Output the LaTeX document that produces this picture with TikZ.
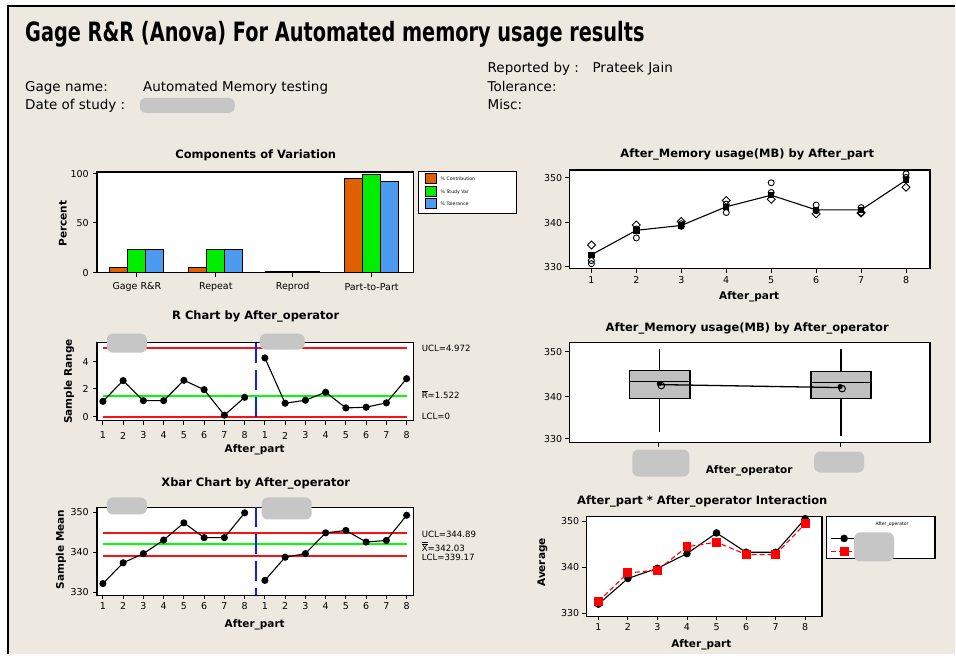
\documentclass[tikz,border=0pt]{standalone}
\usepackage{fontspec}
\setmainfont{DejaVu Sans}
\usetikzlibrary{shapes.geometric}

\definecolor{paper}{HTML}{EDE9E0}
\definecolor{contrib}{HTML}{E06000}
\definecolor{studyvar}{HTML}{00EE00}
\definecolor{toler}{HTML}{4C9BF0}
\definecolor{smudge}{HTML}{C6C6C6}
\definecolor{boxfill}{HTML}{C0C0C0}
\definecolor{ctlred}{HTML}{FF1010}
\definecolor{ctlgreen}{HTML}{00FF00}
\definecolor{splitblue}{HTML}{1020F0}

\tikzset{
  plotframe/.style={draw=black, line width=1.5pt, fill=white},
  frameline/.style={draw=black, line width=1.5pt},
  charttitle/.style={font=\fontsize{11.5}{14}\selectfont\bfseries, inner sep=0pt},
  ticklabel/.style={font=\fontsize{9.5}{11}\selectfont, inner sep=0pt},
  axistitle/.style={font=\fontsize{10.5}{12}\selectfont\bfseries, inner sep=0pt},
  limitlabel/.style={font=\fontsize{8.6}{10}\selectfont, inner sep=0pt, anchor=west},
  headtext/.style={font=\fontsize{13.5}{16}\selectfont, inner sep=0pt, anchor=base west},
  tinytext/.style={font=\fontsize{4.6}{5.5}\selectfont, inner sep=0pt, anchor=west},
  bar/.style={draw=black, line width=1pt},
  tickmark/.style={line width=1pt},
  dataline/.style={line width=1.1pt, black},
  ctl/.style={line width=1.9pt},
  smudgeblob/.style={fill=smudge, rounded corners=6pt},
  splitline/.style={splitblue, line width=1.6pt, dash pattern=on 20pt off 7pt},
}

\begin{document}
\begin{tikzpicture}[x=1pt,y=-1pt]
% ---------- page ----------
\fill[white] (0,0) rectangle (956,655);
\fill[paper] (8,6) rectangle (956,655);
\draw[line width=2pt] (8.5,655) -- (8.5,6.5) -- (956,6.5);
\useasboundingbox (0,0) rectangle (956,655);

% ---------- header ----------
\node[anchor=base west, inner sep=0pt, font=\fontsize{25}{30}\selectfont\bfseries] (title) at (25,42)
  {\resizebox*{620pt}{26pt}{Gage R\&R (Anova) For Automated memory usage results}};
\node[headtext] (repby) at (488,73) {Reported by :};
\node[headtext] (repname) at (593,73) {Prateek Jain};
\node[headtext] (gname) at (25,92) {Gage name:};
\node[headtext] (gval) at (143,92) {Automated Memory testing};
\node[headtext] (tol) at (488,92) {Tolerance:};
\node[headtext] (date) at (25,110) {Date of study :};
\node[headtext] (misc) at (488,110) {Misc:};
\fill[smudgeblob] (140,98) rectangle (235,113);

% ---------- components of variation ----------
\node[charttitle] (cvtitle) at (256,155) {Components of Variation};
\draw[plotframe] (97,172) rectangle (414,273);
\begin{scope}[yshift=-273pt, y=0.99pt]
  \foreach \cx/\va/\vb/\vc in {137/5.5/23/23, 216/5.5/23/23, 293/0.8/0.8/0.8, 372/95/99.6/92} {
    \draw[bar, fill=contrib]  (\cx-27,0) rectangle (\cx-9,\va);
    \draw[bar, fill=studyvar] (\cx-9,0)  rectangle (\cx+9,\vb);
    \draw[bar, fill=toler]    (\cx+9,0)  rectangle (\cx+27,\vc);
  }
\end{scope}
\draw[frameline] (97,172) rectangle (414,273);
\foreach \cx/\lab [count=\k] in {137/Gage R\&R, 216/Repeat, 293/Reprod, 372/Part-to-Part} {
  \draw[tickmark] (\cx,273) -- (\cx,277);
  \node[ticklabel] (cvcat\k) at (\cx,287) {\lab};
}
\foreach \yy/\lab [count=\k] in {174/100, 223/50, 273/0} {
  \draw[tickmark] (93,\yy) -- (97,\yy);
  \node[ticklabel, anchor=east] (cvy\k) at (89,\yy) {\lab};
}
\node[axistitle, rotate=90] (cvylab) at (63,224) {Percent};
% legend
\draw[fill=white, line width=1.2pt] (419,172) rectangle (517,214);
\draw[bar, fill=contrib]  (426,174) rectangle (437,184);
\draw[bar, fill=studyvar] (426,187) rectangle (437,197);
\draw[bar, fill=toler]    (426,199) rectangle (437,209);
\node[tinytext] (lgc) at (441,179) {\% Contribution};
\node[tinytext] (lgs) at (441,192) {\% Study Var};
\node[tinytext] (lgt) at (441,204) {\% Tolerance};

% ---------- R chart ----------
\node[charttitle] (rtitle) at (256,317) {R Chart by After\_operator};
\draw[plotframe] (97,343) rectangle (414,421);
\begin{scope}[xshift=82.73pt, yshift=-417pt, x=20.27pt, y=13.75pt]
  \draw[ctl, ctlred]   (1,4.972) -- (16,4.972);
  \draw[ctl, ctlgreen] (1,1.522) -- (16,1.522);
  \draw[ctl, ctlred]   (1,0) -- (16,0);
  \draw[dataline] plot coordinates {(1,1.11) (2,2.62) (3,1.16) (4,1.16) (5,2.64) (6,1.96) (7,0.1) (8,1.4)};
  \draw[dataline] plot coordinates {(9,4.27) (10,0.97) (11,1.19) (12,1.77) (13,0.63) (14,0.68) (15,1.0) (16,2.76)};
  \foreach \i/\v in {1/1.11,2/2.62,3/1.16,4/1.16,5/2.64,6/1.96,7/0.1,8/1.4,
                     9/4.27,10/0.97,11/1.19,12/1.77,13/0.63,14/0.68,15/1.0,16/2.76}
    \fill (\i,\v) circle[radius=3.6pt];
  \foreach \i in {1,...,16} {
    \pgfmathtruncatemacro\pn{mod(\i-1,8)+1}
    \draw[tickmark] (\i,-0.29) -- (\i,-0.58);
    \node[ticklabel] (rx\i) at (\i,-1.38) {\pn};
  }
\end{scope}
\draw[splitline] (256,343) -- (256,421);
\foreach \yy/\lab [count=\k] in {362/4, 389/2, 417/0} {
  \draw[tickmark] (93,\yy) -- (97,\yy);
  \node[ticklabel, anchor=east] (ry\k) at (89,\yy) {\lab};
}
\node[axistitle, rotate=90] (rylab) at (69,382) {Sample Range};
\node[axistitle] (rxlab) at (255,450) {After\_part};
\node[limitlabel] (rucl) at (422,349) {UCL=4.972};
\node[limitlabel] (rbar) at (422,395) {$\overline{\mbox{R}}$=1.522};
\node[limitlabel] (rlcl) at (422,417) {LCL=0};
\fill[smudgeblob] (107,334) rectangle (147,353);
\fill[smudgeblob] (260,334) rectangle (305,350);

% ---------- Xbar chart ----------
\node[charttitle] (xtitle) at (256,484) {Xbar Chart by After\_operator};
\draw[plotframe] (97,508) rectangle (414,596);
\begin{scope}[xshift=82.73pt, yshift=-1913pt, x=20.27pt, y=4pt]
  \draw[ctl, ctlred]   (1,344.89) -- (16,344.89);
  \draw[ctl, ctlgreen] (1,342.03) -- (16,342.03);
  \draw[ctl, ctlred]   (1,339.17) -- (16,339.17);
  \draw[dataline] plot coordinates {(1,332.2) (2,337.4) (3,339.7) (4,343.1) (5,347.4) (6,343.7) (7,343.7) (8,349.9)};
  \draw[dataline] plot coordinates {(9,333.0) (10,338.8) (11,339.7) (12,344.9) (13,345.5) (14,342.6) (15,343.0) (16,349.3)};
  \foreach \i/\v in {1/332.2,2/337.4,3/339.7,4/343.1,5/347.4,6/343.7,7/343.7,8/349.9,
                     9/333.0,10/338.8,11/339.7,12/344.9,13/345.5,14/342.6,15/343.0,16/349.3}
    \fill (\i,\v) circle[radius=3.6pt];
  \foreach \i in {1,...,16} {
    \pgfmathtruncatemacro\pn{mod(\i-1,8)+1}
    \draw[tickmark] (\i,329.25) -- (\i,328.25);
    \node[ticklabel] (xx\i) at (\i,326.5) {\pn};
  }
\end{scope}
\draw[splitline] (256,508) -- (256,596);
\foreach \yy/\lab [count=\k] in {513/350, 553/340, 593/330} {
  \draw[tickmark] (93,\yy) -- (97,\yy);
  \node[ticklabel, anchor=east] (xy\k) at (89,\yy) {\lab};
}
\node[axistitle, rotate=90] (xylab) at (61,550) {Sample Mean};
\node[axistitle] (xxlab) at (255,625) {After\_part};
\node[limitlabel] (xucl) at (422,535) {UCL=344.89};
\node[limitlabel] (xbar) at (422,547) {$\overline{\overline{\mbox{X}}}$=342.03};
\node[limitlabel] (xlcl) at (422,558) {LCL=339.17};
\fill[smudgeblob] (107,498) rectangle (147,515);
\fill[smudgeblob] (262,498) rectangle (312,520);

% ---------- memory usage by part ----------
\node[charttitle] (ptitle) at (748,155) {After\_Memory usage(MB) by After\_part};
\draw[plotframe] (570,170) rectangle (931,269);
\begin{scope}[xshift=547pt, yshift=-1736pt, x=45pt, y=4.45pt]
  \draw[dataline] plot coordinates {(1,332.8) (2,338.3) (3,339.4) (4,343.6) (5,346.2) (6,342.9) (7,342.9) (8,349.6)};
  \foreach \i/\v in {1/335,2/339.5,3/340.3,4/345,5/345.3,6/342,7/342.2,8/348}
    \draw[line width=0.9pt] (\i,\v) ++(0pt,4pt) -- ++(4pt,-4pt) -- ++(-4pt,-4pt) -- ++(-4pt,4pt) -- cycle;
  \foreach \i/\v in {1/330.8,1/331.5,2/336.6,2/338.6,3/339.2,3/339.8,4/342.3,4/344.2,5/349,5/346.8,6/344,6/342.7,7/343.4,7/342.3,8/351,8/350.2}
    \draw[line width=0.9pt] (\i,\v) circle[radius=3pt];
  \foreach \i/\v in {1/332.8,2/338.3,3/339.4,4/343.6,5/346.2,6/342.9,7/342.9,8/349.6}
    \fill (\i,\v) ++(-3.2pt,-3.2pt) rectangle ++(6.4pt,6.4pt);
  \foreach \i in {1,...,8} {
    \draw[tickmark] (\i,329.66) -- (\i,328.76);
    \node[ticklabel] (px\i) at (\i,327.19) {\i};
  }
\end{scope}
\foreach \yy/\lab [count=\k] in {178/350, 223/340, 267/330} {
  \draw[tickmark] (566,\yy) -- (570,\yy);
  \node[ticklabel, anchor=east] (py\k) at (563,\yy) {\lab};
}
\node[axistitle] (pxlab) at (750,297) {After\_part};

% ---------- memory usage by operator ----------
\node[charttitle] (otitle) at (748,329) {After\_Memory usage(MB) by After\_operator};
\draw[plotframe] (570,343) rectangle (931,443);
\draw[line width=1.6pt] (660,349) -- (660,432);
\draw[line width=1.6pt] (842,349) -- (842,436);
\draw[line width=1.6pt, fill=boxfill] (630,371) rectangle (691,399);
\draw[line width=1.6pt, fill=boxfill] (812,372) rectangle (872,399);
\draw[line width=1.6pt] (630,382) -- (691,382);
\draw[line width=1.6pt] (812,383) -- (872,383);
\draw[line width=1.3pt] (661,385) -- (842,388);
\fill (660,384) circle[radius=2.6pt];
\draw[line width=1pt] (662,386) circle[radius=3.3pt];
\fill (841,387) circle[radius=2.6pt];
\draw[line width=1pt] (843,389) circle[radius=3.3pt];
\foreach \xx in {659,841} \draw[tickmark] (\xx,443) -- (\xx,447);
\foreach \yy/\lab [count=\k] in {352/350, 397/340, 439/330} {
  \draw[tickmark] (566,\yy) -- (570,\yy);
  \node[ticklabel, anchor=east] (oy\k) at (563,\yy) {\lab};
}
\node[axistitle] (oxlab) at (750,471) {After\_operator};
\fill[smudgeblob] (633,450) rectangle (690,477);
\fill[smudgeblob] (815,452) rectangle (865,473);

% ---------- interaction ----------
\node[charttitle] (ititle) at (703,502) {After\_part * After\_operator Interaction};
\draw[plotframe] (587,517) rectangle (823,617);
\begin{scope}[xshift=569.43pt, yshift=-2132pt, x=29.57pt, y=4.6pt]
  \draw[dataline] plot coordinates {(1,332) (2,337.6) (3,339.8) (4,343) (5,347.5) (6,343.3) (7,343.3) (8,350.6)};
  \draw[line width=1.1pt, red, dash pattern=on 5pt off 3pt] plot coordinates {(1,332.6) (2,338.8) (3,339.4) (4,344.5) (5,345.5) (6,342.8) (7,342.8) (8,349.5)};
  \foreach \i/\v in {1/332,2/337.6,3/339.8,4/343,5/347.5,6/343.3,7/343.3,8/350.6}
    \fill (\i,\v) circle[radius=3.8pt];
  \foreach \i/\v in {1/332.6,2/338.8,3/339.4,4/344.5,5/345.5,6/342.8,7/342.8,8/349.5}
    \fill[red] (\i,\v) ++(-4.5pt,-4.5pt) rectangle ++(9pt,9pt);
  \foreach \i in {1,...,8} {
    \draw[tickmark] (\i,329.35) -- (\i,328.48);
    \node[ticklabel] (ix\i) at (\i,326.96) {\i};
  }
\end{scope}
\foreach \yy/\lab [count=\k] in {522/350, 568/340, 614/330} {
  \draw[tickmark] (583,\yy) -- (587,\yy);
  \node[ticklabel, anchor=east] (iy\k) at (580,\yy) {\lab};
}
\node[axistitle, rotate=90] (iylab) at (543,563) {Average};
\node[axistitle] (ixlab) at (702,645) {After\_part};
% legend
\draw[fill=white, line width=1.2pt] (827,517) rectangle (936,559);
\node[tinytext, anchor=center] (ilghead) at (893,525) {After\_operator};
\draw[line width=1.2pt] (832,539) -- (857,539);
\fill (845,539) circle[radius=3.8pt];
\draw[line width=1.2pt, red, dash pattern=on 5pt off 3pt] (832,552) -- (857,552);
\fill[red] (840.5,547.5) rectangle (849.5,556.5);
\fill[smudgeblob] (855,533) rectangle (895,562);
\end{tikzpicture}
\end{document}
